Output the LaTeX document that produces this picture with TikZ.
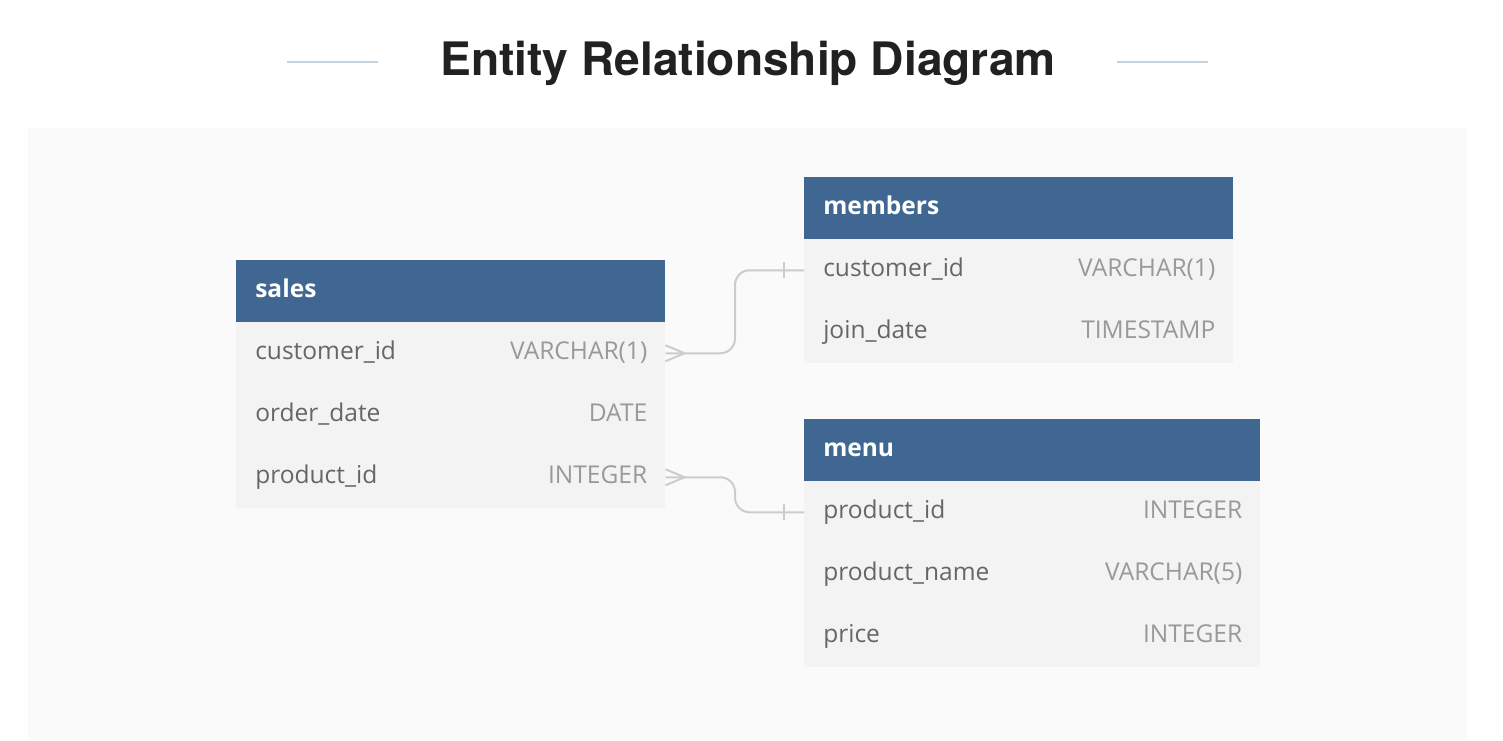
\documentclass[tikz,border=0pt]{standalone}
\usepackage{fontspec}
\setmainfont{Open Sans}
\newfontfamily\titlefont{TeX Gyre Heros}
\usepackage{xcolor}
\usepackage{tikz}
\usetikzlibrary{calc}

\definecolor{headblue}{RGB}{63,103,145}
\definecolor{rowbg}{RGB}{243,243,243}
\definecolor{panelbg}{RGB}{250,250,250}
\definecolor{rulecol}{RGB}{197,211,222}
\definecolor{relcol}{RGB}{204,204,204}
\definecolor{namecol}{RGB}{102,102,102}
\definecolor{typecol}{RGB}{153,153,153}

\tikzset{
  tblhead/.style={anchor=north west, fill=headblue, inner sep=0pt, minimum width=#1, minimum height=46.5pt},
  tblrow/.style={anchor=north west, fill=rowbg, inner sep=0pt, minimum width=#1, minimum height=46.5pt},
  headtxt/.style={anchor=west, inner sep=0pt, text=white, font=\fontsize{18.4}{22}\selectfont\bfseries, text height=13pt, text depth=4pt},
  fname/.style={anchor=west, inner sep=0pt, text=namecol, font=\fontsize{18.4}{22}\selectfont, text height=13pt, text depth=4pt},
  ftype/.style={anchor=east, inner sep=0pt, text=typecol, font=\fontsize{18.4}{22}\selectfont, text height=13pt, text depth=4pt},
  rel/.style={draw=relcol, line width=1.5pt, rounded corners=11pt},
  relend/.style={draw=relcol, line width=1.5pt}
}

\begin{document}
\begin{tikzpicture}[x=0.75pt,y=0.75pt,yscale=-1,xscale=1]
\useasboundingbox (0,0) rectangle (1503,740);
\fill[white] (0,0) rectangle (1503,740);

% Title
\node[anchor=base, inner sep=0pt, text=black!87, font=\titlefont\fontsize{34.6}{40}\selectfont\bfseries] (title) at (748,75) {Entity Relationship Diagram};
\coordinate (ruleL) at (287,62);
\coordinate (ruleR) at (1117,62);
\draw[rulecol, line width=1.5pt] (ruleL) -- ++(91,0);
\draw[rulecol, line width=1.5pt] (ruleR) -- ++(91,0);

% Panel
\fill[panelbg] (28,128) rectangle (1467,740);

% Table: sales
\node[tblhead=321.75pt] (sh) at (236,260) {};
\node[tblrow=321.75pt] (sc) at (236,322) {};
\node[tblrow=321.75pt] (so) at (236,384) {};
\node[tblrow=321.75pt] (sp) at (236,446) {};
\node[headtxt] at ($(sh.west)+(19,0)$) {sales};
\node[fname] at ($(sc.west)+(19,0)$) {customer\_id};
\node[ftype] at ($(sc.east)+(-18,0)$) {VARCHAR(1)};
\node[fname] at ($(so.west)+(19,0)$) {order\_date};
\node[ftype] at ($(so.east)+(-18,0)$) {DATE};
\node[fname] at ($(sp.west)+(19,0)$) {product\_id};
\node[ftype] at ($(sp.east)+(-18,0)$) {INTEGER};

% Table: members
\node[tblhead=321.75pt] (mh) at (804,177) {};
\node[tblrow=321.75pt] (mc) at (804,239) {};
\node[tblrow=321.75pt] (mj) at (804,301) {};
\node[headtxt] at ($(mh.west)+(19,0)$) {members};
\node[fname] at ($(mc.west)+(19,0)$) {customer\_id};
\node[ftype] at ($(mc.east)+(-18,0)$) {VARCHAR(1)};
\node[fname] at ($(mj.west)+(19,0)$) {join\_date};
\node[ftype] at ($(mj.east)+(-18,0)$) {TIMESTAMP};

% Table: menu
\node[tblhead=342pt] (nh) at (804,419) {};
\node[tblrow=342pt] (np) at (804,481) {};
\node[tblrow=342pt] (nn) at (804,543) {};
\node[tblrow=342pt] (nr) at (804,605) {};
\node[headtxt] at ($(nh.west)+(19,0)$) {menu};
\node[fname] at ($(np.west)+(19,0)$) {product\_id};
\node[ftype] at ($(np.east)+(-18,0)$) {INTEGER};
\node[fname] at ($(nn.west)+(19,0)$) {product\_name};
\node[ftype] at ($(nn.east)+(-18,0)$) {VARCHAR(5)};
\node[fname] at ($(nr.west)+(19,0)$) {price};
\node[ftype] at ($(nr.east)+(-18,0)$) {INTEGER};

% Relations
\coordinate (bend) at (735,0);
\draw[rel] (sc.east) -- (sc.east -| bend) |- (mc.west);
\draw[relend] ($(sc.east)+(0,-8)$) -- ($(sc.east)+(19,0)$) -- ($(sc.east)+(0,8)$);
\draw[relend] ($(mc.west)+(-20,-8)$) -- ++(0,16);

\draw[rel] (sp.east) -- (sp.east -| bend) |- (np.west);
\draw[relend] ($(sp.east)+(0,-8)$) -- ($(sp.east)+(19,0)$) -- ($(sp.east)+(0,8)$);
\draw[relend] ($(np.west)+(-20,-8)$) -- ++(0,16);
\end{tikzpicture}
\end{document}
